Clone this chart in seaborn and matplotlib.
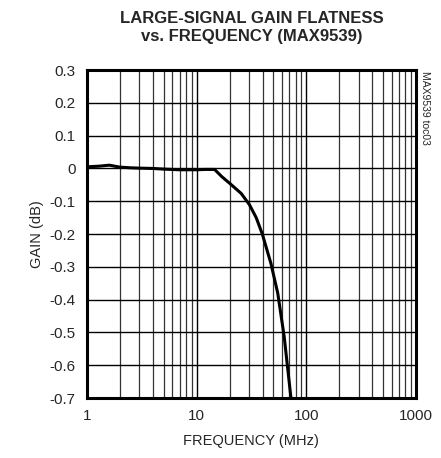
import matplotlib
matplotlib.use("Agg")
import matplotlib.pyplot as plt
import seaborn as sns
import pandas as pd
from matplotlib.ticker import FixedLocator, FixedFormatter, NullFormatter

# ---------- data ----------
freq_mhz = [1.0, 1.3, 1.6, 2.0, 2.5, 3.0, 4.0, 5.0, 7.0, 10.0, 12.0, 14.6,
            17.0, 20.0, 25.5, 30.3, 35.0, 39.8, 47.7, 55.0, 63.0, 72.6]
gain_db = [0.005, 0.007, 0.010, 0.004, 0.002, 0.001, 0.0, -0.002, -0.004, -0.004, -0.003, -0.003,
           -0.025, -0.045, -0.076, -0.11, -0.15, -0.20, -0.29, -0.38, -0.513, -0.70]

x_ticks = [1, 10, 100, 1000]
x_labels = ["1", "10", "100", "1000"]
y_ticks = [0.3, 0.2, 0.1, 0, -0.1, -0.2, -0.3, -0.4, -0.5, -0.6, -0.7]
y_labels = ["0.3", "0.2", "0.1", "0", "-0.1", "-0.2", "-0.3", "-0.4", "-0.5", "-0.6", "-0.7"]

df = pd.DataFrame({"freq": freq_mhz, "gain": gain_db})

sns.set_style("white")
plt.rcParams["font.family"] = ["Liberation Sans Narrow", "Liberation Sans", "DejaVu Sans"]

fig = plt.figure(figsize=(4.41, 4.58), dpi=100)
ax = fig.add_axes([0.197, 0.131, 0.746, 0.716])

sns.lineplot(data=df, x="freq", y="gain", ax=ax, color="black", linewidth=2.2)

ax.set_xscale("log")
ax.set_xlim(1, 1000)
ax.set_ylim(-0.7, 0.3)

ax.xaxis.set_major_locator(FixedLocator(x_ticks))
ax.xaxis.set_major_formatter(FixedFormatter(x_labels))
minor = [m * d for d in [1, 10, 100] for m in range(2, 10)]
ax.xaxis.set_minor_locator(FixedLocator(minor))
ax.xaxis.set_minor_formatter(NullFormatter())
ax.yaxis.set_major_locator(FixedLocator(y_ticks))
ax.yaxis.set_major_formatter(FixedFormatter(y_labels))

ax.grid(True, which="major", color="black", linewidth=1.0)
ax.grid(True, which="minor", axis="x", color="#333333", linewidth=0.9)
ax.tick_params(axis="both", which="both", length=0, labelsize=11, pad=8)

for s in ax.spines.values():
    s.set_visible(True)
    s.set_color("black")
    s.set_linewidth(2.2)

ax.set_xlabel("FREQUENCY (MHz)", fontsize=10.5, labelpad=8)
ax.set_ylabel("GAIN (dB)", fontsize=10.5, labelpad=4)
fig.text(0.57, 0.975, "LARGE-SIGNAL GAIN FLATNESS\nvs. FREQUENCY (MAX9539)",
         ha="center", va="top", fontsize=12, fontweight="bold", linespacing=1.2)
fig.text(0.963, 0.845, "MAX9539 toc03", rotation=270, ha="center", va="top", fontsize=7.5)

fig.savefig("out.png", dpi=100)
